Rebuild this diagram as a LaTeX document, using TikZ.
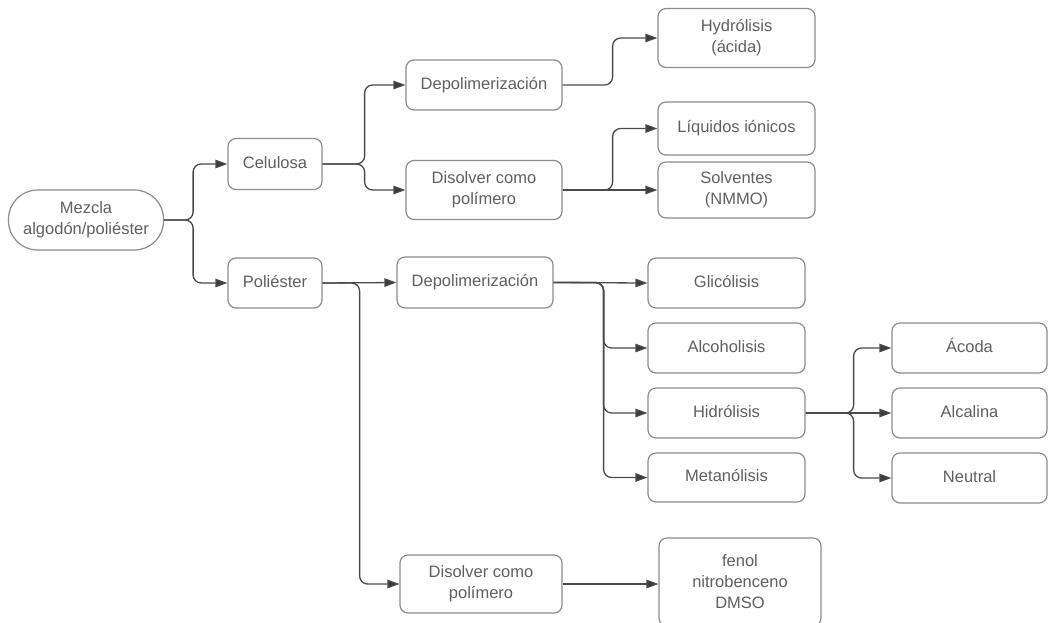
\documentclass[tikz,border=0pt]{standalone}
\usepackage{fontspec}
\setmainfont{Liberation Sans}
\usetikzlibrary{arrows.meta}
\definecolor{boxline}{HTML}{8C8C8C}
\definecolor{txt}{HTML}{606060}
\definecolor{conn}{HTML}{4A4A4A}
\begin{document}
\begin{tikzpicture}[x=1pt,y=-1pt,
  box/.style={draw=boxline, line width=1.2pt, rounded corners=8pt, align=center,
    text=txt, font=\fontsize{16.5}{21}\selectfont, inner sep=0pt},
  onel/.style={text height=12pt, text depth=3.5pt},
  link/.style={draw=conn, line width=1.3pt, rounded corners=8pt,
    -{Triangle[length=12pt,width=8.5pt,fill=conn!80!black]}}]
\fill[white] (0,0) rectangle (1048,622);
\clip (0,0) rectangle (1048,622);

\node[box, rounded corners=29pt, minimum width=155pt, minimum height=60pt] (mez) at (86,220) {Mezcla\\algodón/poliéster};
\node[box, onel, minimum width=94pt, minimum height=51pt] (cel) at (275,164) {Celulosa};
\node[box, onel, minimum width=94pt, minimum height=50pt] (pol) at (275,283) {Poliéster};

\node[box, onel, minimum width=156pt, minimum height=50pt] (dc) at (484,85) {Depolimerización};
\node[box, minimum width=156pt, minimum height=59pt] (sc) at (484,190) {Disolver como\\polímero};
\node[box, minimum width=157pt, minimum height=59pt] (hy) at (736.5,38) {Hydrólisis\\(ácida)};
\node[box, onel, minimum width=157pt, minimum height=53pt] (li) at (736.5,128.5) {Líquidos iónicos};
\node[box, minimum width=157pt, minimum height=56pt] (so) at (736.5,190) {Solventes\\(NMMO)};

\node[box, onel, minimum width=156pt, minimum height=51pt] (dp) at (475,282.5) {Depolimerización};
\node[box, onel, minimum width=157pt, minimum height=50pt] (gl) at (726.5,283) {Glicólisis};
\node[box, onel, minimum width=157pt, minimum height=50pt] (al) at (726.5,348) {Alcoholisis};
\node[box, onel, minimum width=157pt, minimum height=50pt] (hi) at (726.5,413) {Hidrólisis};
\node[box, onel, minimum width=157pt, minimum height=49pt] (me) at (726.5,477.5) {Metanólisis};

\node[box, onel, minimum width=155pt, minimum height=50pt] (ac) at (969.5,348) {Ácoda};
\node[box, onel, minimum width=155pt, minimum height=50pt] (ak) at (969.5,413) {Alcalina};
\node[box, onel, minimum width=155pt, minimum height=50pt] (ne) at (969.5,478) {Neutral};

\node[box, minimum width=162pt, minimum height=58pt] (sp) at (481,584) {Disolver como\\polímero};
\node[box, minimum width=162pt, minimum height=88pt] (fe) at (740,582) {fenol\\nitrobenceno\\DMSO};

% connectors
\draw[link] (mez.east) -- ++(29,0) |- (cel.west);
\draw[link] (mez.east) -- ++(29,0) |- (pol.west);

\draw[link] (cel.east) -- ++(42,0) |- (dc.west);
\draw[link] (cel.east) -- ++(42,0) |- (sc.west);

\draw[link] (dc.east) -- ++(50,0) |- (hy.west);
\draw[link] (sc.east) -- ++(50,0) |- (li.west);
\draw[link] (sc.east) -- (so.west);

\draw[link] (pol.east) -- (dp.west);
\draw[link] (pol.east) -- ++(37,0) |- (sp.west);

\draw[link] (dp.east) -- (gl.west);
\draw[link] (dp.east) -- ++(50,0) |- (al.west);
\draw[link] (dp.east) -- ++(50,0) |- (hi.west);
\draw[link] (dp.east) -- ++(50,0) |- (me.west);

\draw[link] (hi.east) -- ++(48,0) |- (ac.west);
\draw[link] (hi.east) -- (ak.west);
\draw[link] (hi.east) -- ++(48,0) |- (ne.west);

\draw[link] (sp.east) -- (fe.west |- sp.east);
\end{tikzpicture}
\end{document}
